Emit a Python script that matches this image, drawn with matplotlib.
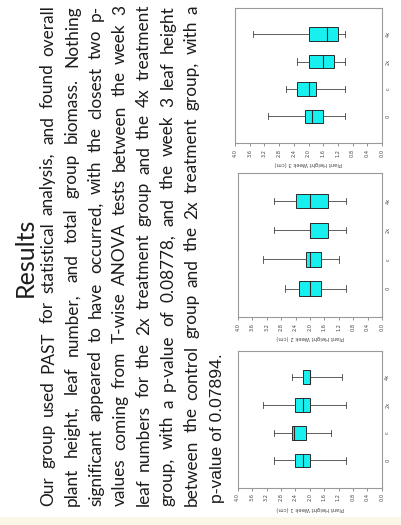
import matplotlib
matplotlib.use("Agg")
import matplotlib.pyplot as plt
from matplotlib.font_manager import FontProperties
from matplotlib.transforms import IdentityTransform
from matplotlib.patches import Rectangle

groups = ["0", "c", "2x", "4x"]
xticks = [0.0, 0.4, 0.8, 1.2, 1.6, 2.0, 2.4, 2.8, 3.2, 3.6, 4.0]

# whislo, q1, med, q3, whishi  for 0, c, 2x, 4x
week3 = [[1.0, 1.6, 1.9, 2.1, 3.1],
         [1.0, 1.8, 2.0, 2.3, 2.6],
         [1.0, 1.3, 1.6, 2.0, 2.3],
         [1.0, 1.2, 1.5, 2.0, 3.5]]
week2 = [[1.0, 1.7, 2.0, 2.3, 2.7],
         [1.2, 1.7, 2.0, 2.1, 3.3],
         [1.0, 1.5, 2.0, 2.0, 3.0],
         [1.0, 1.5, 2.0, 2.4, 3.0]]
week1 = [[1.0, 2.0, 2.2, 2.4, 3.0],
         [1.4, 2.1, 2.45, 2.5, 3.0],
         [1.0, 2.0, 2.2, 2.4, 3.3],
         [1.1, 2.0, 2.0, 2.2, 2.5]]
labels = ["Plant Height Week 3 (cm)", "Plant Height Week 2 (cm)", "Plant Height Week 1 (cm)"]

title = "Results"
lines = ["Our group used PAST for statistical analysis, and found overall",
         "plant height, leaf number, and total group biomass. Nothing",
         "significant appeared to have occurred, with the closest two p-",
         "values coming from T-wise ANOVA tests between the week 3",
         "leaf numbers for the 2x treatment group and the 4x treatment",
         "group, with a p-value of 0.08778, and the week 3 leaf height",
         "between the control group and the 2x treatment group, with a"]
last_line = "p-value of 0.07894."

W, H = 401, 525
fig = plt.figure(figsize=(W / 100, H / 100), dpi=100)
fig.patches.append(Rectangle((0, 0), 1, 8 / H, transform=fig.transFigure,
                             facecolor="#fbf6e6", edgecolor="none", zorder=-1))
renderer = fig.canvas.get_renderer()
px = IdentityTransform()
txt_color = "#1c1c1c"

# slide text, rotated 90 deg (reads bottom to top)
fig.text(33, H - 257.5, title, rotation=90, rotation_mode="anchor",
         ha="center", va="baseline", transform=px, color=txt_color,
         fontproperties=FontProperties(family="Lato", size=18))

body = FontProperties(family="Lato", size=12.4)
y_start, y_end = H - 506, H - 5
for i, line in enumerate(lines):
    words = line.split(" ")
    widths = [renderer.get_text_width_height_descent(w, body, ismath=False)[0] for w in words]
    gap = (y_end - y_start - sum(widths)) / (len(words) - 1)
    y = y_start
    for w, wd in zip(words, widths):
        fig.text(53 + 24 * i, y, w, fontproperties=body, rotation=90,
                 rotation_mode="anchor", ha="left", va="baseline",
                 transform=px, color=txt_color)
        y += wd + gap

fig.text(222, H - 503, last_line, rotation=90, rotation_mode="anchor",
         ha="left", va="baseline", transform=px, color=txt_color,
         fontproperties=FontProperties(family="Liberation Sans", size=12.6))

# chart panels (pixel boxes in the picture: x0, top, x1, bottom)
boxes = [(235, 8, 382, 143.3), (238, 173.3, 382, 317.3), (237.7, 350.7, 381.7, 487.7)]
for (x0, y0, x1, y1), data, lab in zip(boxes, [week3, week2, week1], labels):
    ax = fig.add_axes([x0 / W, (H - y1) / H, (x1 - x0) / W, (y1 - y0) / H])
    stats = [dict(whislo=d[0], q1=d[1], med=d[2], q3=d[3], whishi=d[4], fliers=[])
             for d in data]
    ax.bxp(stats, positions=[1, 2, 3, 4], widths=0.5, capwidths=0.22,
           orientation="horizontal", patch_artist=True,
           boxprops=dict(facecolor="#18f0f0", edgecolor="#2a2a2a", linewidth=0.7),
           medianprops=dict(color="#2a2a2a", linewidth=0.8),
           whiskerprops=dict(color="#444444", linewidth=0.6),
           capprops=dict(color="#444444", linewidth=0.6))
    ax.set_xlim(4.0, 0.0)
    ax.set_ylim(0.02, 4.95)
    ax.set_xticks(xticks)
    ax.set_xticklabels(["%.1f" % t for t in xticks], rotation=90, fontsize=3.6, color="#444444")
    ax.set_yticks([1, 2, 3, 4])
    ax.set_yticklabels(groups, rotation=90, fontsize=3.6, color="#444444", va="center")
    ax.yaxis.tick_right()
    ax.tick_params(axis="x", length=2.5, width=0.5, color="#666666", pad=1.5)
    ax.tick_params(axis="y", length=0, pad=2.5)
    ax.set_xlabel(lab, rotation=180, fontsize=3.8, color="#444444", labelpad=3)
    for s in ax.spines.values():
        s.set_color("#9a9a9a")
        s.set_linewidth(0.8)

fig.savefig("out.png", dpi=100)
